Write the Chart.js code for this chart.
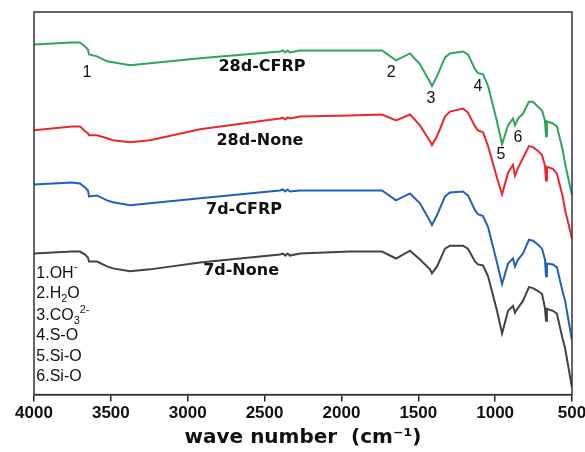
<!DOCTYPE html>
<html>
<head>
<meta charset="utf-8">
<script src="https://cdn.jsdelivr.net/npm/chart.js@4/dist/chart.umd.min.js"></script>
<style>
  html, body { margin: 0; padding: 0; background: #fff; }
  #wrap { width: 585px; height: 452px; }
</style>
</head>
<body>
<div id="wrap"><canvas id="ftirChart" width="585" height="452"></canvas></div>
<script>
// wavenumber (cm-1) sample positions, shared by all four spectra
const wavenumbers = [4000, 3753, 3701, 3668, 3649, 3642, 3590, 3525, 3486, 3375, 3245, 2920, 2400, 2380, 2365, 2350, 2335, 2270,
    1944, 1736, 1645, 1554, 1489, 1424, 1411, 1378, 1326, 1294, 1209, 1177, 1131, 1112, 1079, 1046, 988, 955,
    916, 884, 871, 851, 819, 780, 754, 721, 695, 676, 669, 663, 624, 598, 559, 546, 500];

// transmittance, arbitrary units (stacked)
const t28dCFRP = [355, 357, 357, 353, 350, 345, 343, 338, 337, 334, 336, 341, 348, 349, 347, 349, 347, 349,
    349, 349, 339, 346, 335, 317, 313, 323, 342, 346, 348, 345, 330, 326, 325, 313, 277, 254,
    273, 280, 273, 280, 285, 297, 297, 292, 288, 278, 262, 277, 275, 272, 247, 235, 202];
const t28dNone = [268, 272, 272, 267, 265, 263, 263, 260, 258, 256, 258, 269, 280, 281, 279, 281, 280, 282,
    283, 284, 278, 284, 273, 257, 253, 262, 282, 287, 290, 286, 272, 268, 266, 252, 220, 203,
    225, 233, 222, 230, 240, 252, 251, 247, 243, 232, 217, 231, 229, 224, 200, 188, 158];
const t7dCFRP = [213, 215, 214, 210, 207, 201, 202, 197, 195, 192, 194, 199, 207, 208, 206, 208, 206, 207,
    207, 207, 197, 204, 194, 176, 172, 182, 201, 205, 206, 202, 187, 183, 181, 170, 134, 112,
    133, 138, 130, 137, 143, 157, 156, 152, 148, 137, 120, 133, 132, 129, 103, 96, 55];
const t7dNone = [143, 145, 145, 142, 139, 135, 135, 130, 128, 125, 127, 134, 142, 143, 141, 143, 141, 143,
    145, 145, 138, 146, 137, 127, 123, 130, 148, 151, 151, 148, 135, 132, 131, 120, 85, 62,
    85, 90, 83, 88, 95, 109, 108, 105, 102, 88, 75, 87, 85, 82, 55, 48, 7];

const seriesNames = ['28d-CFRP', '28d-None', '7d-CFRP', '7d-None'];
const seriesColors = ['#2ea55a', '#e8282c', '#1f5fbd', '#424242'];
const seriesValues = [t28dCFRP, t28dNone, t7dCFRP, t7dNone];

const xTicks = [4000, 3500, 3000, 2500, 2000, 1500, 1000, 500];

const peakNumbers = ['1', '2', '3', '4', '5', '6'];
const bandLegend = [
    [{ t: '1.OH' }, { t: '-', sup: true }],
    [{ t: '2.H' }, { t: '2', sub: true }, { t: 'O' }],
    [{ t: '3.CO' }, { t: '3', sub: true }, { t: '2-', sup: true }],
    [{ t: '4.S-O' }],
    [{ t: '5.Si-O' }],
    [{ t: '6.Si-O' }],
];

// where the text sits, in data units
const peakPos = [[3655, 327], [1677, 327], [1417, 300], [1112, 312], [962, 243], [851, 261]];
const namePos = [[2517, 332], [2530, 257], [2634, 187], [2653, 125]];
const legendPos = { x: 3985, y: [123, 102, 80, 60, 39, 18] };

function drawRich(ctx, parts, x, y, size) {
    let cx = x;
    for (const p of parts) {
        const s = (p.sub || p.sup) ? size * 0.68 : size;
        ctx.font = s + 'px "Liberation Sans", Arial, sans-serif';
        const dy = p.sub ? size * 0.3 : (p.sup ? -size * 0.38 : 0);
        ctx.fillText(p.t, cx, y + dy);
        cx += ctx.measureText(p.t).width;
    }
}

const textPlugin = {
    id: 'ftirText',
    afterDraw(chart) {
        const ctx = chart.ctx;
        const xs = chart.scales.x, ys = chart.scales.y;
        const a = chart.chartArea;
        ctx.save();
        // box around the plot
        ctx.strokeStyle = '#333';
        ctx.lineWidth = 1.5;
        ctx.strokeRect(a.left, a.top, a.right - a.left, a.bottom - a.top);

        ctx.fillStyle = '#111';
        ctx.textBaseline = 'middle';
        ctx.textAlign = 'center';
        ctx.font = '16px "Liberation Sans", Arial, sans-serif';
        peakNumbers.forEach((n, i) => {
            ctx.fillText(n, xs.getPixelForValue(peakPos[i][0]), ys.getPixelForValue(peakPos[i][1]));
        });

        ctx.font = 'bold 16px "DejaVu Sans", sans-serif';
        seriesNames.forEach((n, i) => {
            ctx.fillText(n, xs.getPixelForValue(namePos[i][0]), ys.getPixelForValue(namePos[i][1]));
        });

        ctx.textAlign = 'left';
        bandLegend.forEach((parts, i) => {
            drawRich(ctx, parts, xs.getPixelForValue(legendPos.x), ys.getPixelForValue(legendPos.y[i]), 16);
        });
        ctx.restore();
    }
};

const ftirChart = new Chart(document.getElementById('ftirChart'), {
    type: 'line',
    data: {
        datasets: seriesNames.map((name, i) => ({
            label: name,
            data: wavenumbers.map((w, j) => ({ x: w, y: seriesValues[i][j] })),
            borderColor: seriesColors[i],
            borderWidth: 2,
            pointRadius: 0,
            tension: 0,
            fill: false,
        })),
    },
    options: {
        responsive: false,
        animation: false,
        layout: { padding: { top: 12, left: 34, right: 0, bottom: 0 } },
        plugins: {
            legend: { display: false },
            tooltip: { enabled: false },
        },
        scales: {
            x: {
                type: 'linear',
                reverse: true,
                min: 500,
                max: 4000,
                afterBuildTicks: (axis) => { axis.ticks = xTicks.map(v => ({ value: v })); },
                // let the "500" label run to the canvas edge like the original
                afterFit: (axis) => { axis.paddingRight = 13; },
                ticks: {
                    color: '#111',
                    padding: 2,
                    maxRotation: 0,
                    font: { family: '"Liberation Sans", Arial, sans-serif', size: 17, weight: 'bold' },
                    callback: (v) => String(v),
                },
                grid: { drawOnChartArea: false, drawTicks: true, tickLength: 7, color: '#222', lineWidth: 1.5 },
                border: { color: '#222', width: 1.5 },
                title: {
                    display: true,
                    text: 'wave number  (cm⁻¹)',
                    color: '#111',
                    padding: { top: 0, bottom: 2 },
                    font: { family: '"DejaVu Sans", sans-serif', size: 20, weight: 'bold' },
                },
            },
            y: {
                display: false,
                min: 0,
                max: 388,
            },
        },
    },
    plugins: [textPlugin],
});
</script>
</body>
</html>
